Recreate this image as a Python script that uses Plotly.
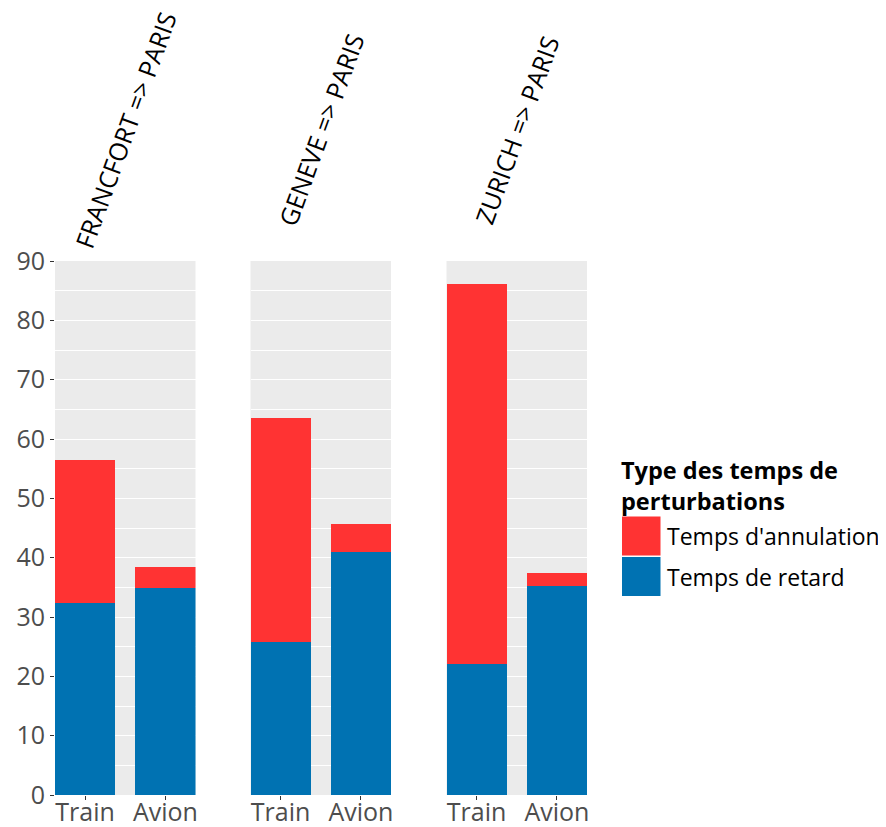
import plotly.graph_objects as go
from plotly.subplots import make_subplots

# ---- data ----
routes = ["FRANCFORT => PARIS", "GENEVE => PARIS", "ZURICH => PARIS"]
modes = ["Train", "Avion"]
retard_train = [32.4, 25.8, 22.0]
retard_avion = [34.9, 41.0, 35.2]
annulation_train = [24.0, 37.7, 64.2]
annulation_avion = [3.5, 4.7, 2.2]
y_ticks = [0, 10, 20, 30, 40, 50, 60, 70, 80, 90]
legend_title = "Type des temps de<br>perturbations"
legend_labels = ["Temps d'annulation", "Temps de retard"]

RED = "#FF3333"
BLUE = "#0072B2"
FONT = "Open Sans"
AXIS_GREY = "#4D4D4D"
BAR_W = 0.75

fig = make_subplots(rows=1, cols=3, shared_yaxes=True, horizontal_spacing=0.1)

for i, route in enumerate(routes):
    col = i + 1
    fig.add_trace(go.Bar(x=modes, y=[retard_train[i], retard_avion[i]],
                         name=legend_labels[1], marker=dict(color=BLUE, line=dict(width=0)),
                         width=BAR_W, showlegend=False), row=1, col=col)
    fig.add_trace(go.Bar(x=modes, y=[annulation_train[i], annulation_avion[i]],
                         name=legend_labels[0], marker=dict(color=RED, line=dict(width=0)),
                         width=BAR_W, showlegend=False), row=1, col=col)

# the page body adds an 8px offset; compensate
OFF = 8
W, H = 886 - OFF, 827 - OFF
ml, mr, mt, mb = 55 - OFF, 299, 261 - OFF, 32
pw = W - ml - mr
ph = H - mt - mb

# panel pixel edges (relative to plot-area left)
panels = [(0, 140.5), (195.5, 336), (391.5, 532)]
domains = [[a / pw, b / pw] for a, b in panels]

fig.update_layout(
    width=W, height=H,
    margin=dict(l=ml, r=mr, t=mt, b=mb),
    barmode="stack",
    bargap=0,
    plot_bgcolor="#EBEBEB",
    paper_bgcolor="white",
    font=dict(family=FONT, color="black"),
    showlegend=False,
)

for i in range(3):
    key = "xaxis" if i == 0 else f"xaxis{i+1}"
    fig.layout[key].update(
        domain=domains[i], type="category", categoryorder="array", categoryarray=modes,
        range=[-BAR_W / 2, 1 + BAR_W / 2], showgrid=False, zeroline=False, showline=False,
        ticks="outside", ticklen=4, tickwidth=1, tickcolor="#333333",
        ticklabelstandoff=-9,
        tickfont=dict(family=FONT, size=25, color=AXIS_GREY), automargin=False,
    )
    ykey = "yaxis" if i == 0 else f"yaxis{i+1}"
    fig.layout[ykey].update(
        range=[0, 90], showgrid=True, gridcolor="white", gridwidth=1.4,
        zeroline=False, showline=False, automargin=False,
        minor=dict(dtick=5, tick0=0, showgrid=True, gridcolor="white", gridwidth=0.6, ticks=""),
        tickvals=y_ticks,
        ticks="outside" if i == 0 else "", ticklen=4, tickwidth=1, tickcolor="#333333",
        showticklabels=(i == 0),
        tickfont=dict(family=FONT, size=25, color=AXIS_GREY),
    )

# pixel (reference screen coords) -> paper coords
def ppx(px):
    return (px - OFF - ml) / pw

def ppy(py):
    return (H - mb - (py - OFF)) / ph

for i, route in enumerate(routes):
    xref = "x domain" if i == 0 else f"x{i+1} domain"
    fig.add_annotation(text=route, xref=xref, x=0.5, yref="paper", y=ppy(130),
                       xanchor="center", yanchor="middle", textangle=-70, showarrow=False,
                       font=dict(family=FONT, size=25, color="black"))

# manual legend
fig.add_annotation(text="<b>" + legend_title + "</b>", xref="paper", yref="paper",
                   x=ppx(619), y=ppy(452), xanchor="left", yanchor="top",
                   align="left", showarrow=False,
                   font=dict(family=FONT, size=23.5, color="black"))
swatches = [(RED, 516.5, 555.5), (BLUE, 557, 596)]
for (color, top, bot), label in zip(swatches, legend_labels):
    fig.add_shape(type="rect", xref="paper", yref="paper",
                  x0=ppx(622), x1=ppx(660.5), y0=ppy(bot), y1=ppy(top),
                  fillcolor=color, line=dict(width=0))
    fig.add_annotation(text=label, xref="paper", yref="paper",
                       x=ppx(665), y=ppy((top + bot) / 2), xanchor="left", yanchor="middle",
                       showarrow=False, font=dict(family=FONT, size=23, color="black"))

fig.write_html("out.html")
